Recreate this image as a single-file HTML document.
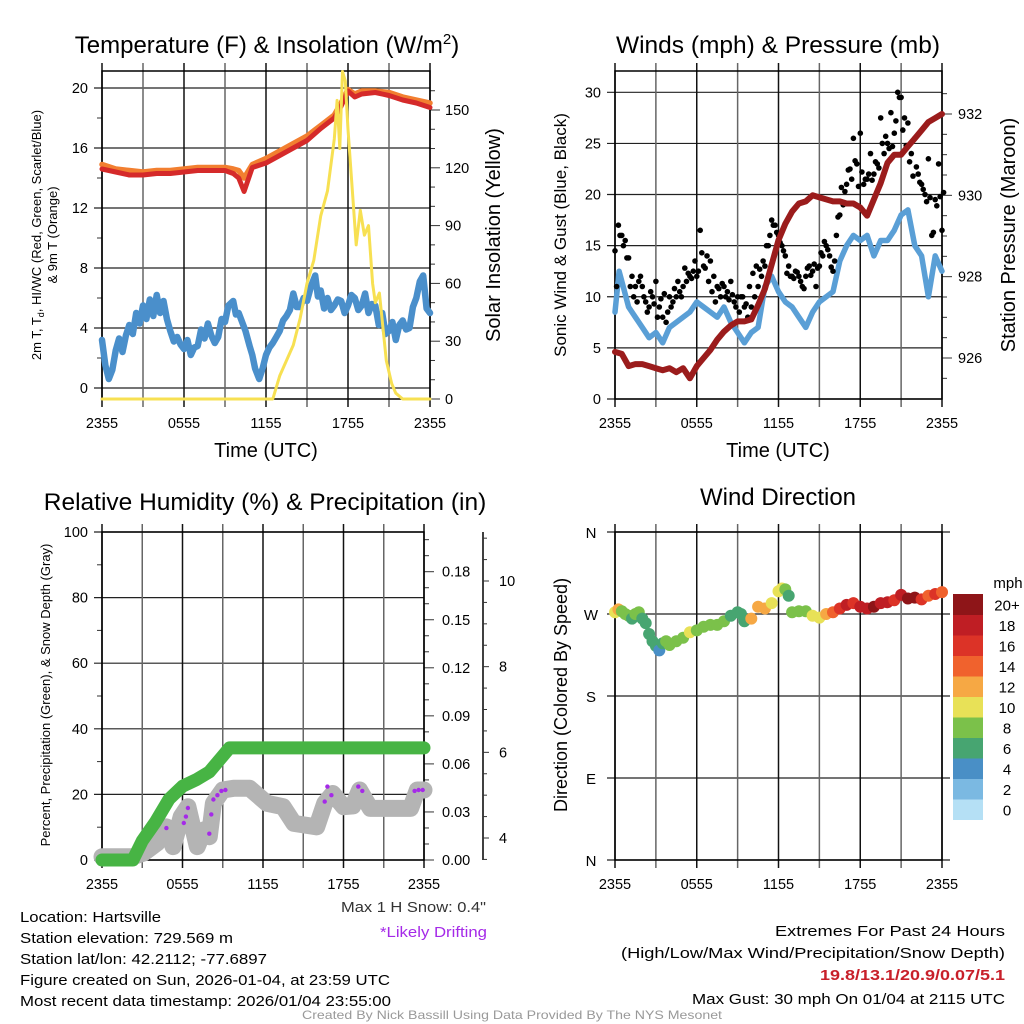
<!DOCTYPE html>
<html><head><meta charset="utf-8"><style>
html,body{margin:0;padding:0;background:#fff}
svg{display:block;font-family:"Liberation Sans",sans-serif}
</style></head><body>
<svg id="fig" width="1024" height="1024" viewBox="0 0 1024 1024" xmlns="http://www.w3.org/2000/svg">
<rect width="1024" height="1024" fill="#fff"/>
<g id="p1"></g>
<g id="p2"></g>
<g id="p3"></g>
<g id="p4"></g>

<text x="267" y="53" font-size="24" text-anchor="middle">Temperature (F) &amp; Insolation (W/m<tspan font-size="15" dy="-9">2</tspan><tspan dy="9">)</tspan></text>
<text x="778" y="53" font-size="24.5" text-anchor="middle">Winds (mph) &amp; Pressure (mb)</text>
<text x="265" y="510" font-size="24.5" text-anchor="middle">Relative Humidity (%) &amp; Precipitation (in)</text>
<text x="778" y="505" font-size="24" text-anchor="middle">Wind Direction</text>

<text x="266" y="457" font-size="20" text-anchor="middle">Time (UTC)</text>
<text x="778" y="457" font-size="20" text-anchor="middle">Time (UTC)</text>

<text transform="translate(41,235) rotate(-90)" font-size="13" text-anchor="middle">2m T, T<tspan font-size="9" dy="3">d</tspan><tspan dy="-3">, HI/WC (Red, Green, Scarlet/Blue)</tspan></text>
<text transform="translate(57,235) rotate(-90)" font-size="13" text-anchor="middle">&amp; 9m T (Orange)</text>
<text transform="translate(500,235) rotate(-90)" font-size="20" text-anchor="middle">Solar Insolation (Yellow)</text>
<text transform="translate(566,235) rotate(-90)" font-size="17" text-anchor="middle">Sonic Wind &amp; Gust (Blue, Black)</text>
<text transform="translate(1015,235) rotate(-90)" font-size="20" text-anchor="middle">Station Pressure (Maroon)</text>
<text transform="translate(50,695) rotate(-90)" font-size="13" text-anchor="middle">Percent, Precipitation (Green), &amp; Snow Depth (Gray)</text>
<text transform="translate(567,695) rotate(-90)" font-size="18" text-anchor="middle">Direction (Colored By Speed)</text>

<g font-size="15">
<text x="20" y="922" textLength="141" lengthAdjust="spacingAndGlyphs">Location: Hartsville</text>
<text x="20" y="943" textLength="213" lengthAdjust="spacingAndGlyphs">Station elevation: 729.569 m</text>
<text x="20" y="964" textLength="247" lengthAdjust="spacingAndGlyphs">Station lat/lon: 42.2112; -77.6897</text>
<text x="20" y="985" textLength="370" lengthAdjust="spacingAndGlyphs">Figure created on Sun, 2026-01-04, at 23:59 UTC</text>
<text x="20" y="1006" textLength="371" lengthAdjust="spacingAndGlyphs">Most recent data timestamp: 2026/01/04 23:55:00</text>
<text x="341" y="912" textLength="145" lengthAdjust="spacingAndGlyphs" fill="#333">Max 1 H Snow: 0.4"</text>
<text x="380" y="937" textLength="107" lengthAdjust="spacingAndGlyphs" fill="#a52ae8">*Likely Drifting</text>
<text x="775" y="936" textLength="230" lengthAdjust="spacingAndGlyphs">Extremes For Past 24 Hours</text>
<text x="621" y="958" textLength="384" lengthAdjust="spacingAndGlyphs">(High/Low/Max Wind/Precipitation/Snow Depth)</text>
<text x="820" y="980" textLength="185" lengthAdjust="spacingAndGlyphs" fill="#c8202a" font-weight="bold">19.8/13.1/20.9/0.07/5.1</text>
<text x="692" y="1004" textLength="313" lengthAdjust="spacingAndGlyphs">Max Gust: 30 mph On 01/04 at 2115 UTC</text>
<text x="512" y="1019" font-size="12" text-anchor="middle" fill="#999" textLength="420" lengthAdjust="spacingAndGlyphs">Created By Nick Bassill Using Data Provided By The NYS Mesonet</text>
</g>
</svg>
<script>
// ---------- data (hours since 2355 UTC) ----------
const timeTicks = ["2355","0555","1155","1755","2355"];
const tempHours = [0,1,2,3,4,5,6,7,8,9,9.6,10,10.4,11,12,13,14,15,16,17,17.5,18,18.5,19,20,21,22,23,24];
const temp2m   = [14.6,14.4,14.2,14.2,14.3,14.3,14.4,14.5,14.5,14.5,14.3,14.0,13.1,14.7,15.0,15.5,16.0,16.5,17.3,18.0,18.8,19.8,19.4,19.6,19.7,19.5,19.2,19.0,18.7];
const temp9m   = [14.9,14.6,14.5,14.4,14.5,14.5,14.6,14.7,14.7,14.7,14.6,14.5,14.0,14.9,15.3,15.8,16.3,16.8,17.5,18.2,19.0,19.9,19.6,19.8,19.8,19.7,19.4,19.2,19.0];
const dewHours = [0,0.25,0.5,0.75,1,1.25,1.5,1.75,2,2.25,2.5,2.75,3,3.25,3.5,3.75,4,4.25,4.5,4.75,5,5.25,5.5,5.75,6,6.25,6.5,6.75,7,7.25,7.5,7.75,8,8.25,8.5,8.75,9,9.25,9.6,9.8,10,10.25,10.5,10.8,11,11.2,11.5,11.75,12,12.25,12.5,12.75,13,13.25,13.5,13.75,14,14.25,14.5,14.75,15,15.3,15.6,15.8,16,16.25,16.5,16.75,17,17.25,17.5,17.75,18,18.25,18.5,18.75,19,19.25,19.5,19.75,20,20.25,20.5,20.75,21,21.25,21.5,21.75,22,22.25,22.5,22.75,23,23.25,23.5,23.75,24];
const dewpoint = [3.2,1.5,0.6,1.2,2.5,3.3,2.4,3.5,4.2,3.6,5.0,4.3,5.5,4.6,5.9,4.8,6.2,5.0,5.8,4.6,3.8,3.1,3.4,2.9,2.6,3.2,2.2,2.7,2.8,3.9,3.3,4.3,3.5,3.0,3.4,4.6,4.4,5.5,5.8,4.9,5.0,4.4,3.8,2.8,2.2,1.3,0.6,1.3,2.2,2.7,3.0,3.4,3.8,4.5,4.8,5.2,6.3,5.4,5.4,6.0,5.8,6.8,7.5,6.1,6.5,5.3,6.0,5.2,5.5,5.9,5.8,5.0,5.5,6.2,6.0,5.2,5.5,6.3,5.0,5.6,5.5,4.2,5.0,3.6,3.8,4.4,3.2,4.2,4.5,3.9,4.0,5.4,6.0,7.1,7.5,5.3,5.0];
const solarHours = [0,12.5,13,13.5,14,14.5,15,15.5,16,16.5,17,17.2,17.4,17.6,17.8,18,18.3,18.6,18.9,19.2,19.5,19.8,20,20.3,20.8,21.2,21.5,22,24];
const solar      = [0,0,12,20,28,42,60,72,95,108,135,155,130,170,165,140,110,80,98,85,90,60,50,55,20,8,3,0,0];

const windHours = [0,0.3,0.6,1,1.5,2,2.5,3,3.5,4,4.5,5,5.5,6,6.5,7,7.5,8,8.5,9,9.5,10,10.5,11,11.5,12,12.5,13,13.5,14,14.5,15,15.5,16,16.5,17,17.5,18,18.5,19,19.5,20,20.5,21,21.5,22,22.5,23,23.5,24];
const windSpeed = [8.5,12.5,11,9,8,7,6,6.5,5.5,7,7.5,8,8.5,9.5,9,8.5,8,9,7.5,6.5,5.5,6.5,7,11,12,10.5,9.5,9,8,7,8.5,9.5,10,10.5,13.5,15,16,15.5,16,14,15.5,15.5,16.5,18,18.5,15,14,10,14,12.5];
const gustSpeed = [14.5,17,16,15.5,13.8,12,11,11.5, 11,9.5,9,10,11.5,9,8,7.5, 10,9.5,10,10.5,11,11.5,12,12.5, 12,16.5,13,14,13.5,12,11,10, 11,10.5,11.5,9.5,10,10,9,8, 9,10,11,12,13,15,17.5,17, 16,15,14,13,12,12.5,12,11, 12,13,12.5,11,13,14,15,14, 12.5,16,18,19,21,22.5,25.5,23, 26,21,21.5,24,22,23,27.5,24, 25,28,26,30,29.5,27.5,27,24, 25.5,22,21,20,23.5,16,19.5,23, 16.5];
const gust2     = [11,16,15,13.8,11,10,9.5,12, 10,8.5,10.5,9.3,8,9.8,10.3,8.5, 9,10.8,11.5,10,12.8,12.3,11.8,13.5, 12.5,14.3,12.8,11.5,10.5,9.5,10.8,11.3, 10,9.7,10.2,9,8.5,10,9.3,11, 12.3,13,12.7,13.5,15,16,17,16.3, 15.3,14.5,12.3,12,11.8,12.4,11.5,10.8, 12.8,12.1,13.2,12.8,14.3,15.4,14.6,12.9, 13.5,17.8,20.7,20.3,22.4,21.5,23.3,20.8, 22.2,21.5,22,21.4,23.2,22.6,25,25.7, 24.5,24.7,27.2,29.5,26.3,24.8,23.2,21.8, 22.7,21.2,20.5,19.3,19.7,16.3,18.9,19.8, 20.2];
const presHours = [0,0.5,1,1.5,2,2.5,3,3.5,4,4.5,5,5.5,6,6.5,7,7.5,8,8.5,9,9.5,10,10.5,11,11.5,12,12.5,13,13.5,14,14.5,15,15.5,16,16.5,17,17.5,18,18.5,19,19.5,20,20.5,21,21.5,22,22.5,23,23.5,24];
const pressure  = [926.15,926.1,925.8,925.85,925.85,925.8,925.75,925.7,925.75,925.65,925.75,925.5,925.8,926.0,926.2,926.45,926.65,926.8,926.9,926.9,926.95,927.3,927.7,928.3,928.9,929.3,929.6,929.8,929.85,930.0,929.95,929.9,929.85,929.85,929.8,929.8,929.7,929.5,929.9,930.3,930.8,931.0,931.0,931.2,931.4,931.6,931.8,931.9,932.0];

const precipHours = [0,1,2,2.3,3,4,5,6,7,8,9,9.5,12,16,20,24];
const precip      = [0,0,0,0,0.012,0.024,0.038,0.046,0.05,0.055,0.065,0.07,0.07,0.07,0.07,0.07];
const snowHours = [0,1,2,2.3,3.1,4.1,4.8,5.3,5.9,6.4,7.1,7.6,8.0,8.3,9.0,9.8,11,12.3,13.5,14.3,16,16.6,17.2,18,18.7,19.2,20,23,23.5,24];
const snowDepth = [3.56,3.56,3.56,3.56,3.65,3.88,4.26,3.80,4.50,4.73,3.80,4.19,4.03,4.81,5.12,5.16,5.16,4.81,4.73,4.34,4.26,4.81,5.04,4.73,4.75,5.12,4.69,4.69,5.12,5.12];
const driftHours = [4.8,6.1,6.25,6.4,8.0,8.15,8.3,8.6,8.9,9.2,16.6,16.8,17.1,19.1,19.4,23.3,23.6,23.9];
const driftDepth = [4.23,4.35,4.5,4.7,4.1,4.55,4.9,5.0,5.1,5.12,4.85,5.2,5.0,5.2,5.1,5.1,5.12,5.12];

const dirHours = [0,0.25,0.5,0.75,1,1.25,1.5,1.75,2,2.25,2.5,2.75,3,3.25,3.5,3.75,4,4.5,5,5.5,6,6.5,7,7.5,8,8.5,9,9.25,9.5,10,10.5,11,11.5,12,12.25,12.5,12.75,13,13.5,14,14.5,15,15.5,16,16.5,17,17.5,18,18.5,19,19.5,20,20.5,21,21.5,22,22.5,23,23.5,24];
const direction = [272,275,273,270,268,265,270,272,265,260,248,240,235,230,238,240,236,240,244,250,252,256,258,258,262,268,272,270,262,265,278,276,282,295,298,297,290,272,273,273,268,266,270,272,276,280,282,278,276,278,282,283,285,291,287,288,286,290,292,294];
const dirSpeed  = [10,11,8,7,7,6,7,8,6,6,6,6,5,4,6,7,8,8,8,9,8,8,8,8,7,6,6,6,6,11,12,12,10,10,9,8,6,7,7,8,9,10,11,13,15,17,16,17,18,19,17,18,16,18,19,20,16,14,15,13];
const cbLabels = ["0","2","4","6","8","10","12","14","16","18","20+"];
const cbColors = ["#b5e0f5","#7bb9e2","#498fc6","#47a571","#7bc14a","#e8e157","#f6a844","#f0622d","#dc3327","#bf1e24","#8e1518"];

// ---------- helpers ----------
const NS="http://www.w3.org/2000/svg";
function el(tag,parent){const e=document.createElementNS(NS,tag);parent.appendChild(e);return e;}
function lin(d0,d1,r0,r1){return v=>r0+(v-d0)/(d1-d0)*(r1-r0);}
function pathD(xs,ys,fx,fy){return xs.map((h,i)=>(i?"L":"M")+fx(h).toFixed(1)+","+fy(ys[i]).toFixed(1)).join("");}

function frame(g,x0,x1,y0,y1,xGridTop,xGridBot){
  const fx=lin(0,24,x0,x1);
  for(let h=0;h<=24;h+=3){
    const l=el("line",g);
    
    
    l.setAttribute("x1",fx(h));l.setAttribute("x2",fx(h));
    l.setAttribute("y1",xGridTop);l.setAttribute("y2",xGridBot);
    l.setAttribute("stroke",(h%6===0)?"#111":"#666");l.setAttribute("stroke-width","1.5");
  }
  const r=el("rect",g);
  
  
  r.setAttribute("x",x0);r.setAttribute("y",y0);r.setAttribute("width",x1-x0);r.setAttribute("height",y1-y0);
  r.setAttribute("fill","none");r.setAttribute("stroke","#000");r.setAttribute("stroke-width","1.5");
  timeTicks.forEach((t,i)=>{
    const tx=el("text",g);
    
    
    tx.setAttribute("x",fx(i*6));tx.setAttribute("y",y1+29);tx.setAttribute("font-size","14.5");tx.setAttribute("text-anchor","middle");
    tx.textContent=t;
  });
  return fx;
}
function hgrid(g,x0,x1,y,tickLeft){
  const l=el("line",g);
  
  
  l.setAttribute("x1",x0-tickLeft);l.setAttribute("x2",x1);l.setAttribute("y1",y);l.setAttribute("y2",y);
  l.setAttribute("stroke","#222");l.setAttribute("stroke-width","1.2");
}
function label(g,x,y,txt,anchor,size,name){
  const t=el("text",g);
  
  
  t.setAttribute("x",x);t.setAttribute("y",y);t.setAttribute("text-anchor",anchor);t.setAttribute("font-size",size);
  t.textContent=txt;return t;
}
function tick(g,x,y,len,name){
  const l=el("line",g);
  
  
  l.setAttribute("x1",x);l.setAttribute("x2",x+len);l.setAttribute("y1",y);l.setAttribute("y2",y);
  l.setAttribute("stroke","#333");l.setAttribute("stroke-width","1");
}
function line(g,d,color,w,name){
  const p=el("path",g);
  
  
  p.setAttribute("d",d);p.setAttribute("fill","none");p.setAttribute("stroke",color);p.setAttribute("stroke-width",w);
  p.setAttribute("stroke-linejoin","round");p.setAttribute("stroke-linecap","round");
}
function dot(g,x,y,r,color,name){
  const c=el("circle",g);
  
  
  c.setAttribute("cx",x.toFixed(1));c.setAttribute("cy",y.toFixed(1));c.setAttribute("r",r);c.setAttribute("fill",color);
}

// ---------- panel 1: temperature ----------
(function(){
  const g=document.getElementById("p1");
  const X0=102,X1=430,Y0=71,Y1=399;
  const fy=lin(0,20,388,88), fs=lin(0,150,399,110);
  [0,4,8,12,16,20].forEach(v=>{hgrid(g,X0,X1,fy(v),8);label(g,X0-14,fy(v)+5,String(v),"end","14.5","temp-y-tick-label");});
  for(let v=2;v<21;v+=4) tick(g,X0-5,fy(v),5,"temp-minor-tick");
  [0,30,60,90,120,150].forEach(v=>{tick(g,X1,fs(v),10,"solar-tick");label(g,X1+15,fs(v)+5,String(v),"start","14.5","solar-y-tick-label");});
  for(let v=10;v<170;v+=10) if(v%30) tick(g,X1,fs(v),5,"solar-minor-tick");
  const fx=frame(g,X0,X1,Y0,Y1,63,407);
  line(g,pathD(dewHours,dewpoint,fx,fy),"#4a8fcb",6.5,"dewpoint-line");
  line(g,pathD(tempHours,temp9m,fx,fy),"#f27f30",5.5,"temp-9m-line");
  line(g,pathD(tempHours,temp2m,fx,fy),"#d52a2a",5,"temp-2m-line");
  line(g,pathD(solarHours,solar,fx,fs),"#f7e052",3,"solar-line");
})();

// ---------- panel 2: winds ----------
(function(){
  const g=document.getElementById("p2");
  const X0=615,X1=942,Y0=71,Y1=399;
  const fy=lin(0,30,399,92.3), fp=lin(926,932,358,114);
  [0,5,10,15,20,25,30].forEach(v=>{hgrid(g,X0,X1,fy(v),8);label(g,X0-14,fy(v)+5,String(v),"end","14.5","wind-y-tick-label");});
  [926,928,930,932].forEach(v=>{tick(g,X1,fp(v),10,"pressure-tick");label(g,X1+16,fp(v)+5,String(v),"start","14.5","pressure-y-tick-label");});
  for(let v=925.5;v<932.6;v+=0.5) if(v%2) tick(g,X1,fp(v),5,"pressure-minor-tick");
  const fx=frame(g,X0,X1,Y0,Y1,63,407);
  line(g,pathD(windHours,windSpeed,fx,fy),"#5a9fd6",5.5,"wind-speed-line");
  gustSpeed.forEach((v,i)=>dot(g,fx(i*0.25),fy(v),2.8,"#000","gust-point"));
  gust2.forEach((v,i)=>dot(g,fx(i*0.25+0.12),fy(v),2.8,"#000","gust-point"));
  line(g,pathD(presHours,pressure,fx,fp),"#9b1c1c",6,"pressure-line");
})();

// ---------- panel 3: humidity / precip / snow ----------
(function(){
  const g=document.getElementById("p3");
  const X0=102,X1=424,Y0=532,Y1=860;
  const fy=lin(0,100,860,532), fpr=lin(0,0.18,860,571.7), fsn=lin(4,10,838,581);
  [0,20,40,60,80,100].forEach(v=>{hgrid(g,X0,X1,fy(v),8);label(g,X0-14,fy(v)+5,String(v),"end","14.5","percent-y-tick-label");});
  for(let v=10;v<100;v+=20) tick(g,X0-5,fy(v),5,"percent-minor-tick");
  [0,0.03,0.06,0.09,0.12,0.15,0.18].forEach(v=>{tick(g,X1,fpr(v),10,"precip-tick");label(g,X1+18,fpr(v)+5,v.toFixed(2),"start","14.5","precip-y-tick-label");});
  for(let v=0.01;v<0.205;v+=0.01) if(Math.round(v*100)%3) tick(g,X1,fpr(v),5,"precip-minor-tick");
  const ax=el("line",g);
  
  
  ax.setAttribute("x1",483);ax.setAttribute("x2",483);ax.setAttribute("y1",532);ax.setAttribute("y2",860);ax.setAttribute("stroke","#000");ax.setAttribute("stroke-width","1.5");
  [4,6,8,10].forEach(v=>{tick(g,483,fsn(v),6,"snow-tick");label(g,499,fsn(v)+5,String(v),"start","14.5","snow-y-tick-label");});
  for(let v=3.5;v<11.2;v+=0.5) if(v%2) tick(g,483,fsn(v),4,"snow-minor-tick");
  const fx=frame(g,X0,X1,Y0,Y1,524,868);
  line(g,pathD(snowHours,snowDepth,fx,fsn),"#b4b4b4",17,"snow-depth-line");
  driftHours.forEach((h,i)=>dot(g,fx(h),fsn(driftDepth[i]),2.2,"#a52ae8","drift-point"));
  line(g,pathD(precipHours,precip,fx,fpr),"#47b444",13,"precip-line");
})();

// ---------- panel 4: wind direction ----------
(function(){
  const g=document.getElementById("p4");
  const X0=615,X1=942,Y0=532,Y1=860;
  const fy=lin(0,360,860,532);
  [["N",0],["E",90],["S",180],["W",270],["N",360]].forEach(([t,v])=>{hgrid(g,X0,X1+8,fy(v),8);label(g,591,fy(v)+6,t,"middle","15","direction-y-tick-label");});
  const fx=frame(g,X0,X1,Y0,Y1,524,868);
  function col(s){return cbColors[Math.min(10,Math.max(0,Math.round(s/2)))];}
  direction.forEach((d,i)=>dot(g,fx(dirHours[i]),fy(d),6,col(dirSpeed[i]),"direction-point"));
  const cbX=953,cbW=30,cbTop=594,cbH=20.5;
  cbColors.forEach((c,i)=>{
    const r=el("rect",g);
    
    
    r.setAttribute("x",cbX);r.setAttribute("y",cbTop+(10-i)*cbH);r.setAttribute("width",cbW);r.setAttribute("height",cbH+0.5);r.setAttribute("fill",c);
    label(g,1007,cbTop+(10-i)*cbH+cbH/2+6,cbLabels[i],"middle","15","colorbar-label");
  });
  label(g,1008,588,"mph","middle","15","colorbar-title");
})();
</script>
</body></html>
